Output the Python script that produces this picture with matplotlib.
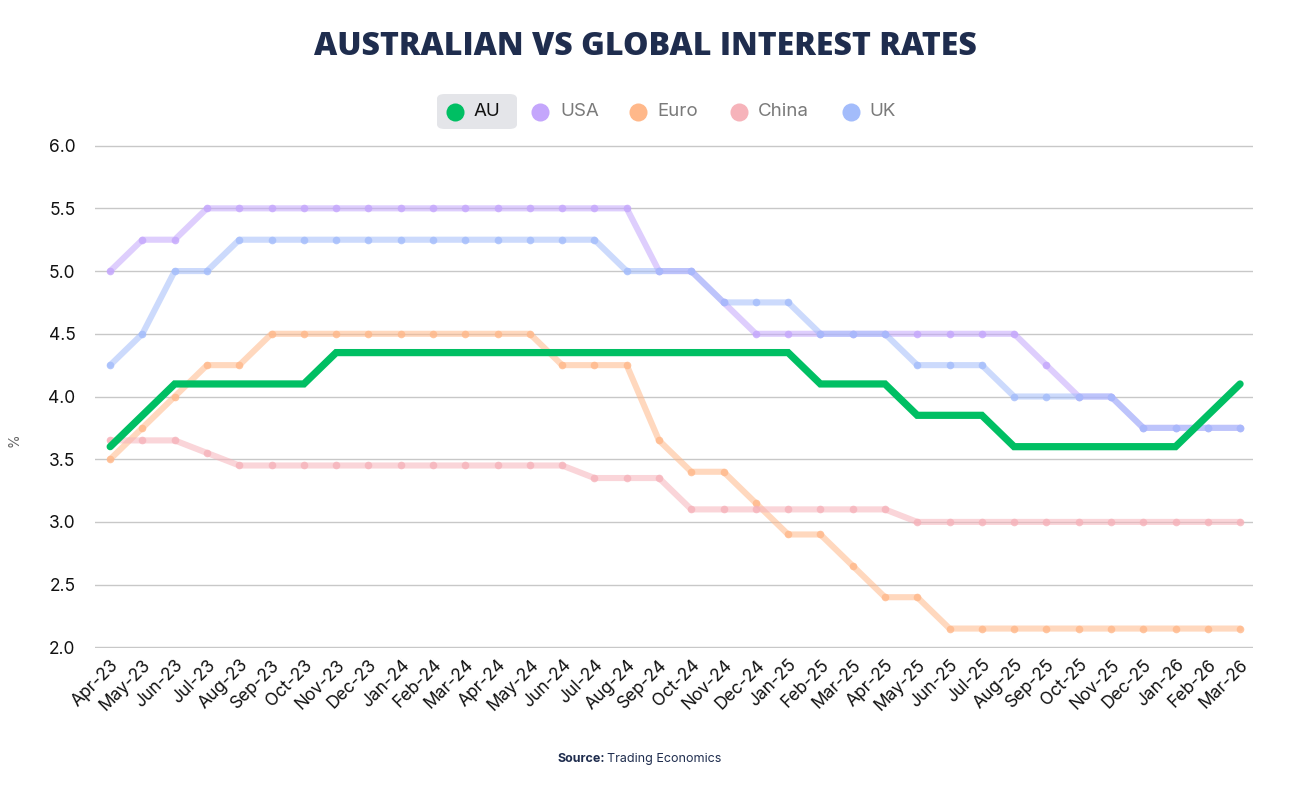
import matplotlib.pyplot as plt
from matplotlib.lines import Line2D
from matplotlib.patches import FancyBboxPatch

# month labels, Apr-23 .. Mar-26
months = ['Apr-23', 'May-23', 'Jun-23', 'Jul-23', 'Aug-23', 'Sep-23', 'Oct-23', 'Nov-23', 'Dec-23',
          'Jan-24', 'Feb-24', 'Mar-24', 'Apr-24', 'May-24', 'Jun-24', 'Jul-24', 'Aug-24', 'Sep-24',
          'Oct-24', 'Nov-24', 'Dec-24', 'Jan-25', 'Feb-25', 'Mar-25', 'Apr-25', 'May-25', 'Jun-25',
          'Jul-25', 'Aug-25', 'Sep-25', 'Oct-25', 'Nov-25', 'Dec-25', 'Jan-26', 'Feb-26', 'Mar-26']

au = [3.60, 3.85, 4.10, 4.10, 4.10, 4.10, 4.10, 4.35, 4.35, 4.35, 4.35, 4.35, 4.35, 4.35, 4.35, 4.35,
      4.35, 4.35, 4.35, 4.35, 4.35, 4.35, 4.10, 4.10, 4.10, 3.85, 3.85, 3.85, 3.60, 3.60, 3.60, 3.60,
      3.60, 3.60, 3.85, 4.10]
usa = [5.00, 5.25, 5.25, 5.50, 5.50, 5.50, 5.50, 5.50, 5.50, 5.50, 5.50, 5.50, 5.50, 5.50, 5.50, 5.50,
       5.50, 5.00, 5.00, 4.75, 4.50, 4.50, 4.50, 4.50, 4.50, 4.50, 4.50, 4.50, 4.50, 4.25, 4.00, 4.00,
       3.75, 3.75, 3.75, 3.75]
euro = [3.50, 3.75, 4.00, 4.25, 4.25, 4.50, 4.50, 4.50, 4.50, 4.50, 4.50, 4.50, 4.50, 4.50, 4.25, 4.25,
        4.25, 3.65, 3.40, 3.40, 3.15, 2.90, 2.90, 2.65, 2.40, 2.40, 2.15, 2.15, 2.15, 2.15, 2.15, 2.15,
        2.15, 2.15, 2.15, 2.15]
china = [3.65, 3.65, 3.65, 3.55, 3.45, 3.45, 3.45, 3.45, 3.45, 3.45, 3.45, 3.45, 3.45, 3.45, 3.45, 3.35,
         3.35, 3.35, 3.10, 3.10, 3.10, 3.10, 3.10, 3.10, 3.10, 3.00, 3.00, 3.00, 3.00, 3.00, 3.00, 3.00,
         3.00, 3.00, 3.00, 3.00]
uk = [4.25, 4.50, 5.00, 5.00, 5.25, 5.25, 5.25, 5.25, 5.25, 5.25, 5.25, 5.25, 5.25, 5.25, 5.25, 5.25,
      5.00, 5.00, 5.00, 4.75, 4.75, 4.75, 4.50, 4.50, 4.50, 4.25, 4.25, 4.25, 4.00, 4.00, 4.00, 4.00,
      3.75, 3.75, 3.75, 3.75]

series_names = ['AU', 'USA', 'Euro', 'China', 'UK']
colors = ['#00bf63', '#c4a6fc', '#ffb88a', '#f6b3ba', '#a3bcfb']
navy = '#1f2d4e'

plt.rcParams['font.family'] = ['Inter', 'DejaVu Sans']

fig = plt.figure(figsize=(12.91, 7.86), dpi=100)
ax = fig.add_axes([95 / 1291, 1 - 648 / 786, (1253 - 95) / 1291, (648 - 145) / 786])

x = list(range(len(months)))

# faded background series first
for name, vals, col in zip(series_names[1:], [usa, euro, china, uk], colors[1:]):
    ax.plot(x, vals, color=col, lw=4.4, alpha=0.55, solid_capstyle='round',
            solid_joinstyle='round', zorder=2)
    ax.plot(x, vals, 'o', color=col, ms=5.5, alpha=0.8, mec='none', zorder=3)

# AU highlighted
ax.plot(x, au, color=colors[0], lw=5.2, solid_capstyle='round', solid_joinstyle='miter', zorder=5)

ax.set_xlim(-0.47, 35.4)
ax.set_ylim(1.995, 6.005)
ax.set_yticks([2.0, 2.5, 3.0, 3.5, 4.0, 4.5, 5.0, 5.5, 6.0])
ax.set_yticklabels([f'{v:.1f}' for v in ax.get_yticks()])
ax.set_xticks(x)
ax.set_xticklabels(months, rotation=45, ha='right', rotation_mode='anchor')
ax.tick_params(axis='both', length=0, labelsize=12.5, colors='#111111')
ax.tick_params(axis='y', pad=14)
ax.tick_params(axis='x', pad=6)
ax.grid(axis='y', color='#c8c8c8', lw=1)
ax.set_axisbelow(True)
for s in ax.spines.values():
    s.set_visible(False)

fig.text(15 / 1291, 1 - 440 / 786, '%', rotation=90, ha='center', va='center',
         fontsize=10, color='#666666')

# title
fig.text(0.5, 1 - 47 / 786, 'AUSTRALIAN VS GLOBAL INTEREST RATES', ha='center', va='center',
         fontsize=23, fontweight='heavy', color=navy, family=['Open Sans', 'DejaVu Sans'])

# legend, drawn by hand
fig.patches.append(FancyBboxPatch((437 / 1291, 1 - 129 / 786), 80 / 1291, 35 / 786,
                                  boxstyle='round,pad=0,rounding_size=0.006',
                                  transform=fig.transFigure, fc='#e4e5e9', ec='none'))
leg_circle_x = [455, 540, 638, 739, 851]
leg_text_x = [474, 560, 657, 758, 869]
for i, name in enumerate(series_names):
    fig.add_artist(Line2D([leg_circle_x[i] / 1291], [1 - 112 / 786], marker='o', ms=13,
                          color=colors[i], mec='none', transform=fig.transFigure))
    fig.text(leg_text_x[i] / 1291, 1 - 112 / 786, name, ha='left', va='center', fontsize=13.5,
             color='#111111' if i == 0 else '#7a7a7a')

# source line
fig.text(557 / 1291, 1 - 759 / 786, 'Source:', ha='left', va='center',
         fontsize=9, fontweight='bold', color=navy)
fig.text(607 / 1291, 1 - 759 / 786, 'Trading Economics', ha='left', va='center',
         fontsize=9, color=navy)

fig.savefig('out.png', dpi=100)
